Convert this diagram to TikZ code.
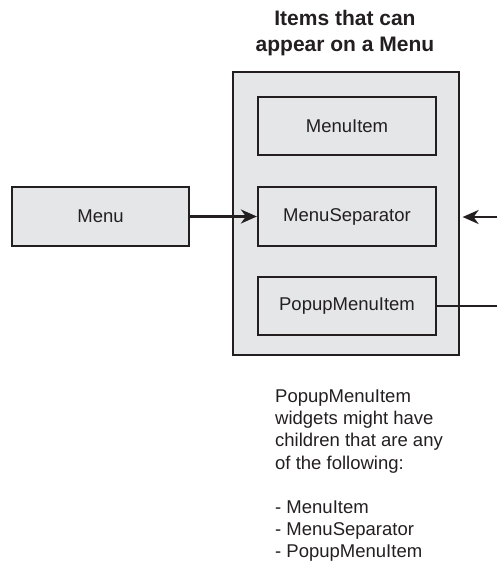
\documentclass[tikz,border=0pt]{standalone}
\usepackage{fontspec}
\setmainfont{Liberation Sans}
\usetikzlibrary{arrows.meta,calc}
\definecolor{boxgray}{RGB}{229,230,232}
\definecolor{ink}{RGB}{35,31,32}
\begin{document}
\begin{tikzpicture}[x=1pt,y=-1pt,
  box/.style={draw=ink,fill=boxgray,line width=2.2pt,inner sep=0pt,font=\fontsize{18.5}{22}\selectfont,text=ink},
  conn/.style={draw=ink,line width=2.3pt},
  arrowtip/.style={-{Stealth[length=16pt,width=14pt,inset=5pt]}}]
\useasboundingbox (0,0) rectangle (497,563);
\node[box,minimum width=226pt,minimum height=283pt] (outer) at (346,213.5) {};
\node[box,minimum width=178pt,minimum height=58pt] (mi) at (347,126) {MenuItem};
\node[box,minimum width=178pt,minimum height=59pt] (ms) at (347,216.5) {MenuSeparator};
\node[box,minimum width=178pt,minimum height=58pt] (pm) at (347,306) {PopupMenuItem};
\node[box,minimum width=177pt,minimum height=59pt] (menu) at (100.5,216.5) {Menu};
\node[font=\bfseries\fontsize{21}{26}\selectfont,align=center,anchor=north,inner sep=0pt,text=ink] (title) at (345,10) {Items that can\\appear on a Menu};
\node[font=\fontsize{18.5}{22.2}\selectfont,align=left,anchor=north west,inner sep=0pt,text=ink] (note) at (275,389.5)
  {PopupMenuItem\\widgets might have\\children that are any\\of the following:\\[22.2pt]- MenuItem\\- MenuSeparator\\- PopupMenuItem};
\coordinate (rin) at (497,217);
\coordinate (rout) at (497,306);
\draw[conn,arrowtip] (menu.east) -- (ms.west);
\draw[conn,arrowtip] (rin) -- ($(rin -| outer.east)+(2.5,0)$);
\draw[conn] (pm.east) -- (rout);
\end{tikzpicture}
\end{document}
